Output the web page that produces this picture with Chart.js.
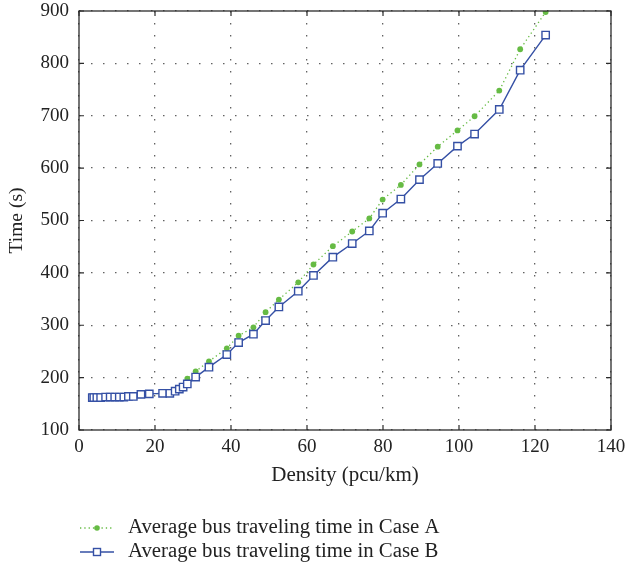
<!DOCTYPE html>
<html>
<head>
<meta charset="utf-8">
<script src="https://cdn.jsdelivr.net/npm/chart.js@4.4.1/dist/chart.umd.min.js"></script>
<style>
  html, body { margin: 0; padding: 0; background: #fff; }
  #wrap { width: 626px; height: 569px; }
</style>
</head>
<body>
<div id="wrap"><canvas id="timeChart"></canvas></div>
<script>
// densities (pcu/km) shared by both cases
const density = [3.5, 3.9, 4.7, 5.7, 7.0, 8.2, 9.4, 10.6, 11.8, 13.0, 14.3, 16.3, 18.5,
  22.0, 23.9, 25.3, 26.4, 27.4, 28.5, 30.7, 34.2, 38.9, 42.0, 45.9, 49.1, 52.6, 57.7,
  61.7, 66.8, 71.9, 76.4, 79.9, 84.7, 89.6, 94.4, 99.6, 104.1, 110.6, 116.1, 122.8];

// average bus traveling time (s)
const timeCaseA = [162, 162, 162, 162, 163, 163, 163, 163, 163, 164, 164, 168, 169,
  170, 171, 175, 179, 184, 198, 212, 231, 256, 280, 296, 325, 349, 382,
  416, 451, 479, 504, 540, 568, 607, 641, 672, 699, 748, 827, 898];
const timeCaseB = [162, 162, 162, 162, 163, 163, 163, 163, 163, 164, 164, 168, 169,
  170, 170, 174, 178, 182, 188, 201, 220, 244, 267, 283, 309, 335, 365,
  395, 430, 456, 480, 514, 541, 578, 609, 642, 665, 712, 787, 854];

const labelA = "Average bus traveling time in Case A";
const labelB = "Average bus traveling time in Case B";

const xTicks = [0, 20, 40, 60, 80, 100, 120, 140];
const yTicks = [100, 200, 300, 400, 500, 600, 700, 800, 900];

const GREEN = "#66bb44";
const BLUE = "#3550a5";
const FONT = "'Liberation Serif', 'DejaVu Serif', serif";
const TEXT = "#222";

function toPoints(xs, ys) {
  return xs.map((x, i) => ({ x: x, y: ys[i] }));
}

// frame, inward ticks and the line-sample legend
const framePlugin = {
  id: "frame",
  afterDraw(chart) {
    const ctx = chart.ctx;
    const { left, right, top, bottom } = chart.chartArea;
    const xs = chart.scales.x;
    const ys = chart.scales.y;
    ctx.save();
    ctx.strokeStyle = "#2b2b2b";
    ctx.lineWidth = 1.3;
    ctx.strokeRect(left, top, right - left, bottom - top);

    ctx.lineWidth = 1.2;
    ctx.beginPath();
    xTicks.forEach(v => {
      const px = xs.getPixelForValue(v);
      ctx.moveTo(px, bottom); ctx.lineTo(px, bottom - 5);
      ctx.moveTo(px, top); ctx.lineTo(px, top + 5);
    });
    yTicks.forEach(v => {
      const py = ys.getPixelForValue(v);
      ctx.moveTo(left, py); ctx.lineTo(left + 5, py);
      ctx.moveTo(right, py); ctx.lineTo(right - 5, py);
    });
    ctx.stroke();

    // legend rows
    const rows = [
      { y: 528, ds: chart.data.datasets[0] },
      { y: 552, ds: chart.data.datasets[1] }
    ];
    ctx.font = "20.8px " + FONT;
    ctx.textBaseline = "middle";
    ctx.fillStyle = TEXT;
    rows.forEach((r, i) => {
      ctx.save();
      ctx.strokeStyle = r.ds.borderColor;
      ctx.lineWidth = r.ds.borderWidth;
      ctx.setLineDash(r.ds.borderDash || []);
      ctx.beginPath();
      ctx.moveTo(80, r.y);
      ctx.lineTo(114, r.y);
      ctx.stroke();
      ctx.setLineDash([]);
      if (i === 0) {
        ctx.fillStyle = GREEN;
        ctx.beginPath();
        ctx.arc(97, r.y, 2.8, 0, Math.PI * 2);
        ctx.fill();
      } else {
        ctx.fillStyle = "#fff";
        ctx.fillRect(93.5, r.y - 3.5, 7, 7);
        ctx.strokeRect(93.5, r.y - 3.5, 7, 7);
      }
      ctx.restore();
      ctx.fillText(r.ds.label, 128, r.y);
    });
    ctx.restore();
  }
};

const gridStyle = {
  color: "rgba(70,70,70,0.85)",
  lineWidth: 1.3,
  drawTicks: false
};

new Chart(document.getElementById("timeChart"), {
  type: "line",
  data: {
    datasets: [
      {
        label: labelA,
        data: toPoints(density, timeCaseA),
        borderColor: GREEN,
        borderWidth: 1.3,
        borderDash: [1.3, 3],
        pointStyle: "circle",
        pointRadius: 2.9,
        pointBackgroundColor: GREEN,
        pointBorderWidth: 0,
        order: 2
      },
      {
        label: labelB,
        data: toPoints(density, timeCaseB),
        borderColor: BLUE,
        borderWidth: 1.4,
        pointStyle: "rect",
        pointRadius: 5.2,
        pointBackgroundColor: "#fff",
        pointBorderColor: BLUE,
        pointBorderWidth: 1.4,
        order: 1
      }
    ]
  },
  options: {
    responsive: true,
    maintainAspectRatio: false,
    animation: false,
    layout: { padding: { top: 11, right: 15, bottom: 79, left: 0 } },
    plugins: {
      legend: { display: false },
      tooltip: { enabled: false }
    },
    scales: {
      x: {
        type: "linear",
        min: 0,
        max: 140,
        afterFit(scale) {
          scale.height = 60;
          scale.paddingLeft = 0;
          scale.paddingRight = 0;
        },
        afterBuildTicks(scale) { scale.ticks = xTicks.map(v => ({ value: v })); },
        grid: gridStyle,
        border: { display: false, dash: [1.5, 10.5] },
        ticks: { padding: 6, color: TEXT, font: { family: FONT, size: 19 } },
        title: {
          display: true,
          text: "Density (pcu/km)",
          color: TEXT,
          font: { family: FONT, size: 21 },
          padding: { top: 0, bottom: 2 }
        }
      },
      y: {
        min: 100,
        max: 900,
        afterFit(scale) {
          scale.width = 79;
          scale.paddingTop = 0;
          scale.paddingBottom = 0;
        },
        afterBuildTicks(scale) { scale.ticks = yTicks.map(v => ({ value: v })); },
        grid: gridStyle,
        border: { display: false, dash: [1.5, 10.5] },
        ticks: { padding: 10, color: TEXT, font: { family: FONT, size: 19 } },
        title: {
          display: true,
          text: "Time (s)",
          color: TEXT,
          font: { family: FONT, size: 19.5 },
          padding: { top: 5, bottom: 0 }
        }
      }
    }
  },
  plugins: [framePlugin]
});
</script>
</body>
</html>
